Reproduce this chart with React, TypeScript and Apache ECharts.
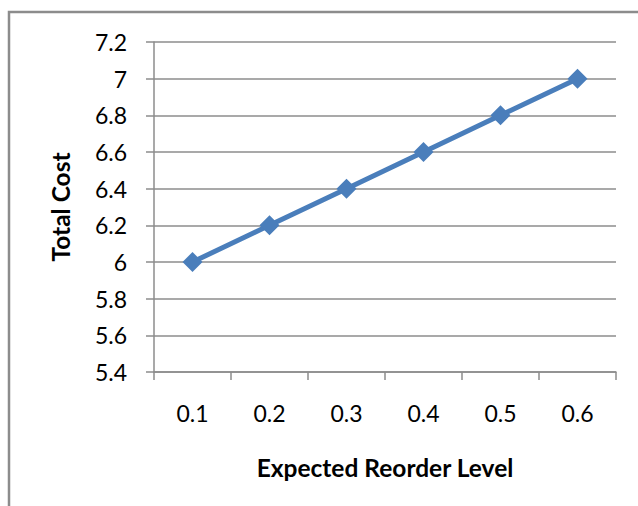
import React, { useEffect, useRef } from "react";
import * as echarts from "echarts";

const categories = ["0.1", "0.2", "0.3", "0.4", "0.5", "0.6"];
const totalCost = [6.0, 6.2, 6.4, 6.6, 6.8, 7.0];
const yMin = 5.4;
const yMax = 7.2;
const yStep = 0.2;
const xTitle = "Expected Reorder Level";
const yTitle = "Total Cost";

export default function App() {
  const ref = useRef<HTMLDivElement>(null);
  useEffect(() => {
    if (!ref.current) return;
    const chart = echarts.init(ref.current, null, { renderer: "svg" });
    const font = "Lato";
    const gray = "#8c8c8c";
    chart.setOption({
      animation: false,
      backgroundColor: "#ffffff",
      textStyle: { fontFamily: font },
      grid: { left: 154, top: 42, right: 22, bottom: 134, containLabel: false },
      xAxis: {
        type: "category",
        data: categories,
        boundaryGap: true,
        axisLine: { lineStyle: { color: gray, width: 1.5 } },
        axisTick: { show: true, length: 8, alignWithLabel: false, lineStyle: { color: gray, width: 1.5 } },
        axisLabel: { margin: 29, fontSize: 23, color: "#000", fontFamily: font },
        splitLine: { show: false },
      },
      yAxis: {
        type: "value",
        min: yMin,
        max: yMax,
        interval: yStep,
        axisLine: { show: true, lineStyle: { color: gray, width: 1.5 } },
        axisTick: { show: true, length: 8, lineStyle: { color: gray, width: 1.5 } },
        axisLabel: {
          margin: 27,
          fontSize: 23,
          color: "#000",
          fontFamily: font,
          formatter: (v: number) => String(+v.toFixed(1)),
        },
        splitLine: { show: true, lineStyle: { color: gray, width: 1.5 } },
      },
      series: [
        {
          type: "line",
          data: totalCost,
          symbol: "diamond",
          symbolSize: 20,
          lineStyle: { color: "#4a7ebb", width: 5 },
          itemStyle: { color: "#4a7ebb" },
        },
      ],
      graphic: [
        {
          type: "rect",
          shape: { x: 9, y: 12, width: 800, height: 700 },
          style: { fill: "none", stroke: gray, lineWidth: 2.5 },
          silent: true,
        },
        {
          type: "text",
          x: 385,
          y: 467,
          style: {
            text: xTitle,
            fontFamily: font,
            fontWeight: "bold",
            fontSize: 24.5,
            fill: "#000",
            textAlign: "center",
            textVerticalAlign: "middle",
          },
        },
        {
          type: "text",
          x: 60,
          y: 207,
          rotation: Math.PI / 2,
          style: {
            text: yTitle,
            fontFamily: font,
            fontWeight: "bold",
            fontSize: 24.5,
            fill: "#000",
            textAlign: "center",
            textVerticalAlign: "middle",
          },
        },
      ],
    });
    return () => chart.dispose();
  }, []);
  return (
    <div
      ref={ref}
      style={{ position: "fixed", left: 0, top: 0, width: 638, height: 506 }}
    />
  );
}
